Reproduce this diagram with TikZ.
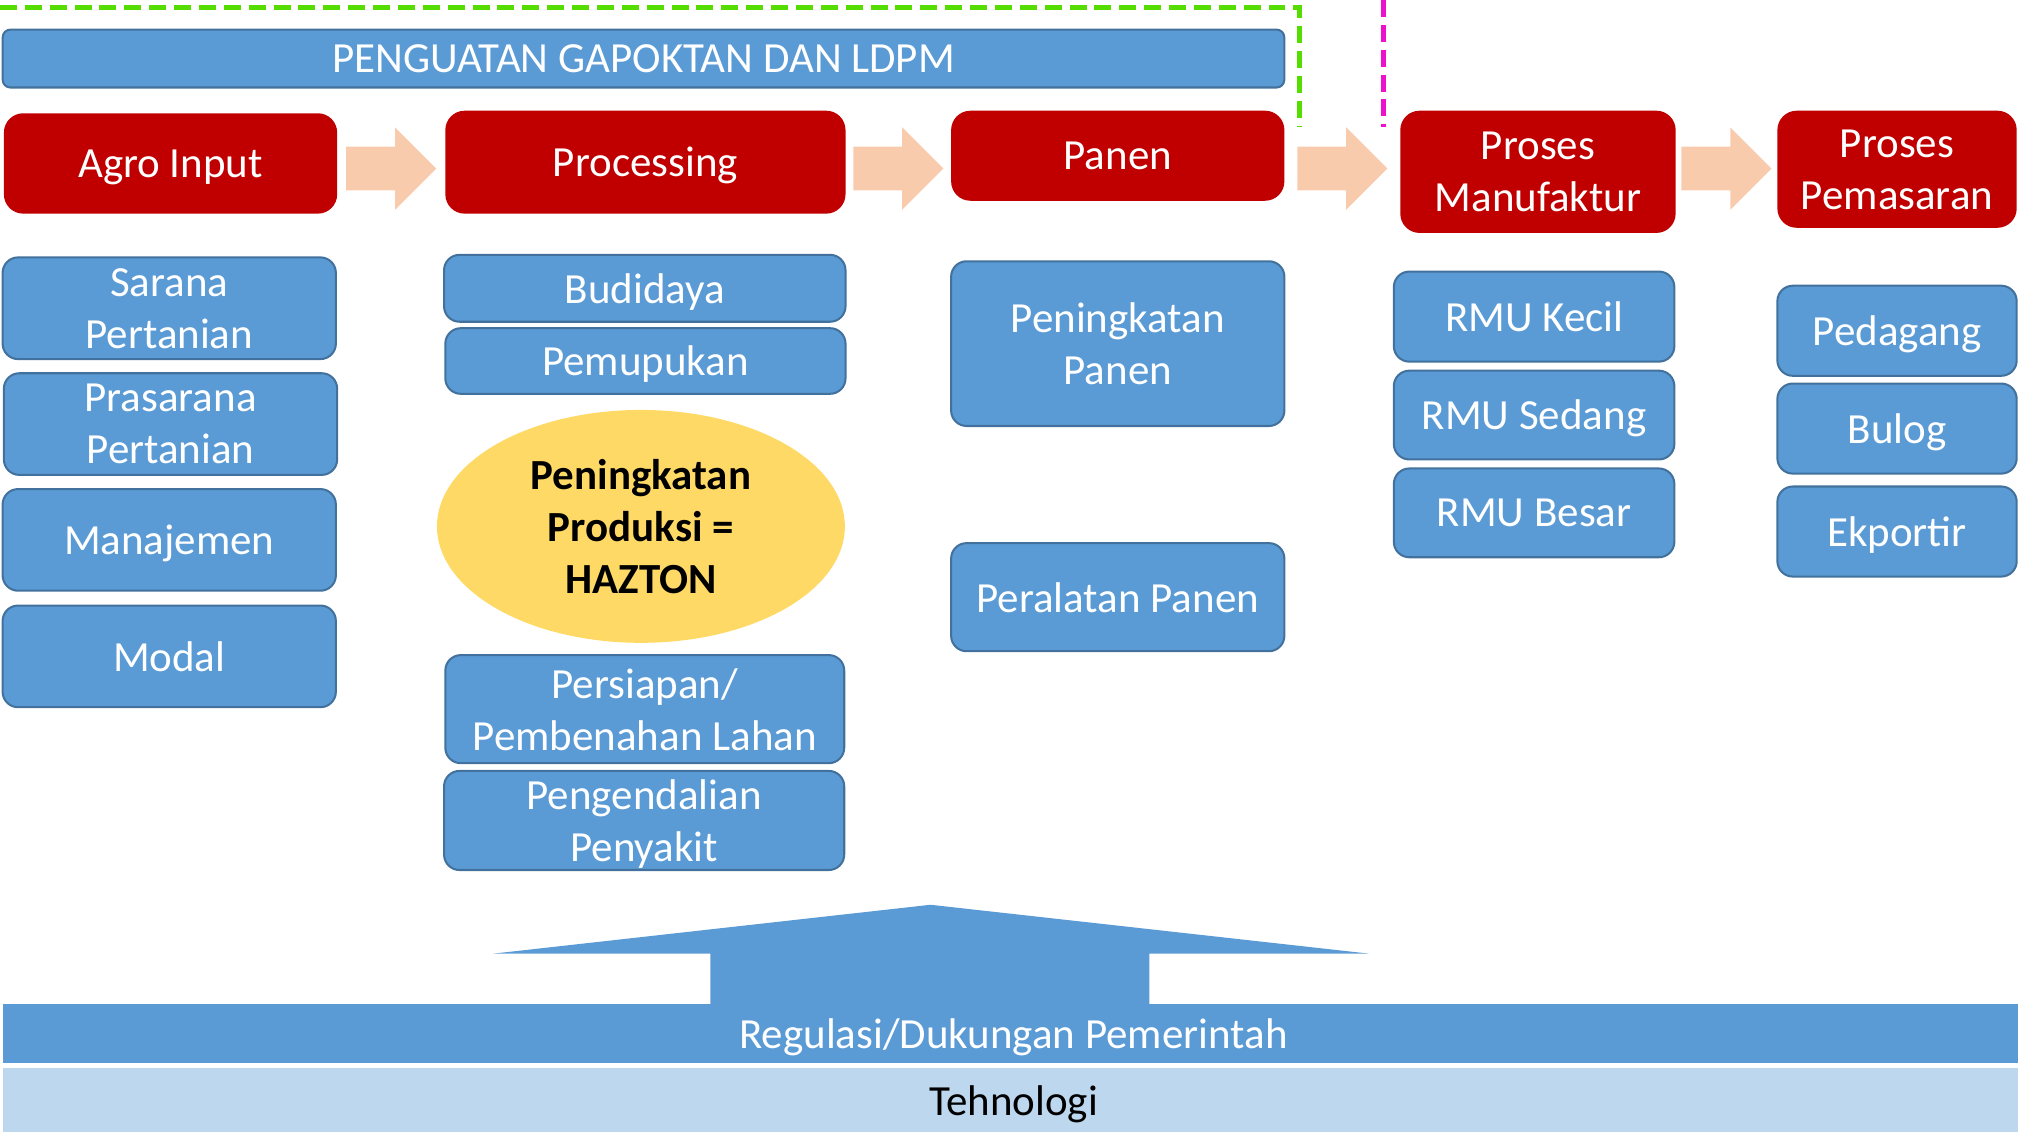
\documentclass[tikz,border=0pt]{standalone}
\usepackage{fontspec}
\setmainfont{Carlito}
\usetikzlibrary{calc, shapes.geometric}

\definecolor{stagered}{HTML}{C00000}
\definecolor{itemblue}{HTML}{5B9BD5}
\definecolor{itemedge}{HTML}{41719C}
\definecolor{peach}{HTML}{F8CBAD}
\definecolor{hazton}{HTML}{FFD966}
\definecolor{techblue}{HTML}{BDD7EE}
\definecolor{dashgreen}{HTML}{55DD00}
\definecolor{dashpink}{HTML}{EE11CC}

\begin{document}
\begin{tikzpicture}[x=0.02cm, y=-0.02cm,
    every node/.style={font=\fontsize{19}{23}\selectfont, align=center, inner sep=0pt, text depth=0pt},
    stage/.style={fill=stagered, text=white, rounded corners=0.3cm},
    item/.style={fill=itemblue, draw=itemedge, line width=0.9pt, text=white, rounded corners=0.24cm},
    band/.style={fill=itemblue, text=white},
    flow/.style={fill=peach},
    linkline/.style={line width=2.2pt, dash pattern=on 7.5pt off 3.5pt}
]
    \useasboundingbox (0,0) rectangle (1568,879);

    % top bar and stages
    \node[item, rounded corners=0.12cm, minimum width=19.92cm, minimum height=0.9cm] (gapoktan) at (500,45.5) {PENGUATAN GAPOKTAN DAN LDPM};

    \node[stage, minimum width=5.18cm, minimum height=1.56cm] (agro) at (132.5,127) {Agro Input};
    \node[stage, minimum width=6.22cm, minimum height=1.6cm] (proc) at (501.5,126) {Processing};
    \node[stage, minimum width=5.18cm, minimum height=1.4cm] (panen) at (868.5,121) {Panen};
    \node[stage, minimum width=4.28cm, minimum height=1.9cm] (manuf) at (1195,133.5) {Proses\\Manufaktur};
    \node[stage, minimum width=3.72cm, minimum height=1.82cm] (pemas) at (1474,131.5) {Proses\\Pemasaran};

    \coordinate (row) at (0,131);
    \foreach \a/\b in {agro/proc,proc/panen,panen/manuf,manuf/pemas}{
        \path ($(\a.east)!0.5!(\b.west)$) coordinate (mid);
        \fill[flow] (mid |- row) ++(-35,-17) -- ++(38,0) -- ++(0,-15) -- ++(32,32)
            -- ++(-32,32) -- ++(0,-15) -- ++(-38,0) -- cycle;
    }

    % agro input
    \node[item, minimum width=5.18cm, minimum height=1.58cm] (sarana) at (131.5,239.5) {Sarana\\Pertanian};
    \node[item, minimum width=5.18cm, minimum height=1.58cm] (prasarana) at (132.5,329.5) {Prasarana\\Pertanian};
    \node[item, minimum width=5.18cm, minimum height=1.58cm] (manajemen) at (131.5,419.5) {Manajemen};
    \node[item, minimum width=5.18cm, minimum height=1.58cm] (modal) at (131.5,510) {Modal};

    % processing
    \node[item, minimum width=6.24cm, minimum height=1.04cm] (budidaya) at (501,224) {Budidaya};
    \node[item, minimum width=6.22cm, minimum height=1.02cm] (pemupukan) at (501.5,280.5) {Pemupukan};
    \node[ellipse, fill=hazton, minimum width=6.34cm, minimum height=3.62cm, font=\fontsize{19}{23}\selectfont\bfseries] (hazton) at (498,409) {Peningkatan\\Produksi =\\HAZTON};
    \node[item, minimum width=6.2cm, minimum height=1.68cm] (persiapan) at (501,551) {Persiapan/\\Pembenahan Lahan};
    \node[item, minimum width=6.22cm, minimum height=1.54cm] (penyakit) at (500.5,637.5) {Pengendalian\\Penyakit};

    % panen
    \node[item, minimum width=5.18cm, minimum height=2.56cm] (tingkatpanen) at (868.5,267) {Peningkatan\\Panen};
    \node[item, minimum width=5.18cm, minimum height=1.68cm] (alatpanen) at (868.5,464) {Peralatan Panen};

    % manufaktur
    \node[item, minimum width=4.36cm, minimum height=1.4cm] (rmukecil) at (1192,246) {RMU Kecil};
    \node[item, minimum width=4.36cm, minimum height=1.38cm] (rmusedang) at (1192,322.5) {RMU Sedang};
    \node[item, minimum width=4.36cm, minimum height=1.38cm] (rmubesar) at (1192,398.5) {RMU Besar};

    % pemasaran
    \node[item, minimum width=3.72cm, minimum height=1.4cm] (pedagang) at (1474,257) {Pedagang};
    \node[item, minimum width=3.72cm, minimum height=1.4cm] (bulog) at (1474,333) {Bulog};
    \node[item, minimum width=3.72cm, minimum height=1.4cm] (ekportir) at (1474,413) {Ekportir};

    % bottom support
    \fill[itemblue] (552,782) -- (552,741) -- (383,741) -- (723,703) -- (1064,741)
        -- (893,741) -- (893,782) -- cycle;
    \node[band, minimum width=31.42cm, minimum height=0.92cm] (regulasi) at (787.5,803) {Regulasi/Dukungan Pemerintah};
    \node[fill=techblue, minimum width=31.42cm, minimum height=1.0cm] (tehnologi) at (787.5,855) {Tehnologi};

    % dashed frames
    \draw[linkline, dashgreen] (0,6) -- (1010,6) -- (1010,99);
    \draw[linkline, dashpink] (1075,0) -- (1075,99);
\end{tikzpicture}
\end{document}
